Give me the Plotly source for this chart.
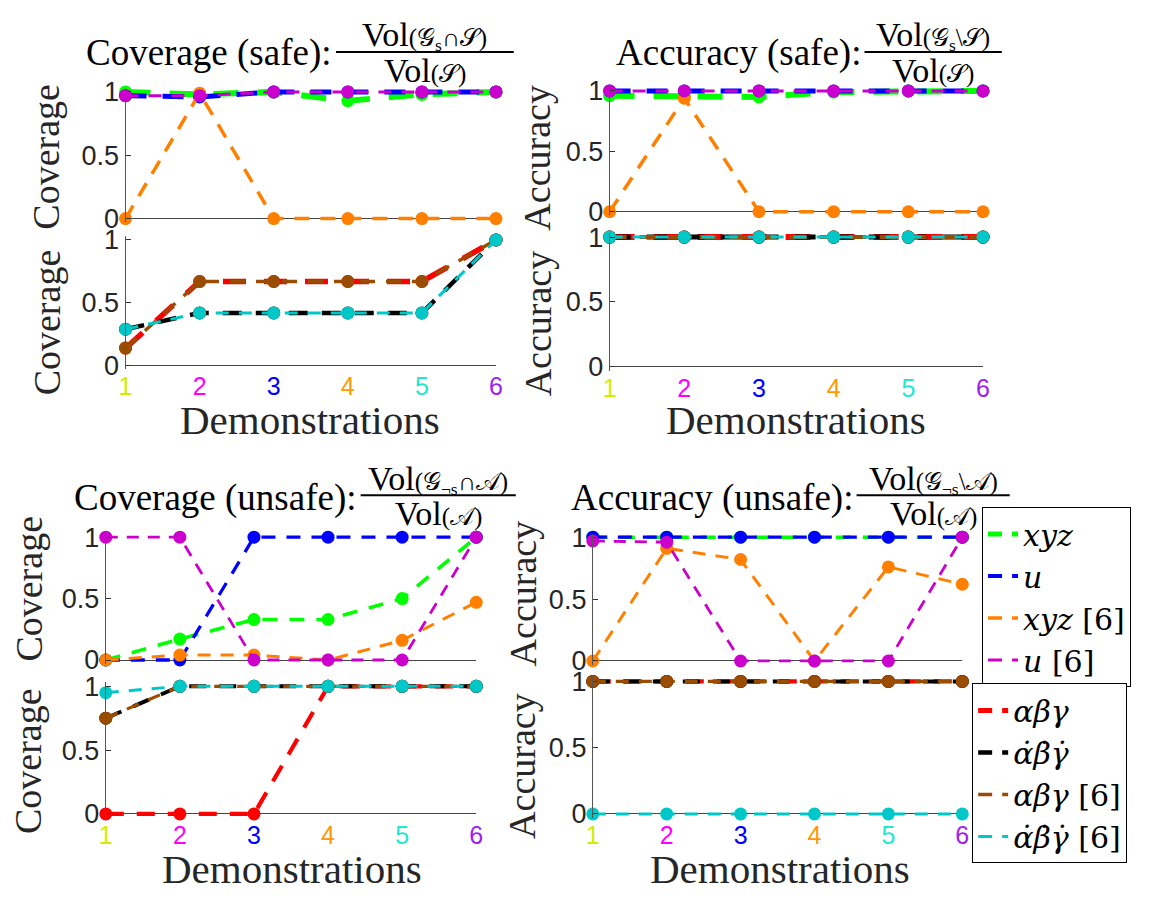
import plotly.graph_objects as go

W, H = 1155, 901

# ---------------- data ----------------
demos = [1, 2, 3, 4, 5, 6]
tick_labels = ["1", "2", "3", "4", "5", "6"]
tick_colors = ["#d2ec00", "#ff00ff", "#0000ff", "#ff9900", "#1ee8d0", "#a020f0"]

series_top = ["xyz", "u", "xyz [6]", "u [6]"]
series_bot = ["αβγ", "α̇β̇γ̇", "αβγ [6]", "α̇β̇γ̇ [6]"]

# Coverage (safe)
cov_safe_xyz = [1.0, 0.98, 1.0, 0.93, 0.98, 1.0]
cov_safe_u = [0.97, 0.96, 1.0, 1.0, 1.0, 1.0]
cov_safe_xyz6 = [0.0, 0.99, 0.0, 0.0, 0.0, 0.0]
cov_safe_u6 = [0.97, 0.97, 1.0, 1.0, 1.0, 1.0]
cov_safe_abg = [0.14, 0.67, 0.67, 0.67, 0.67, 1.0]
cov_safe_dabg = [0.29, 0.42, 0.42, 0.42, 0.42, 1.0]
cov_safe_abg6 = [0.14, 0.67, 0.67, 0.67, 0.67, 1.0]
cov_safe_dabg6 = [0.29, 0.42, 0.42, 0.42, 0.42, 1.0]

# Accuracy (safe)
acc_safe_xyz = [0.96, 0.96, 0.95, 0.99, 1.0, 1.0]
acc_safe_u = [1.0, 1.0, 1.0, 1.0, 1.0, 1.0]
acc_safe_xyz6 = [0.0, 0.94, 0.0, 0.0, 0.0, 0.0]
acc_safe_u6 = [1.0, 1.0, 1.0, 1.0, 1.0, 1.0]
acc_safe_abg = [1.0, 1.0, 1.0, 1.0, 1.0, 1.0]
acc_safe_dabg = [1.0, 1.0, 1.0, 1.0, 1.0, 1.0]
acc_safe_abg6 = [1.0, 1.0, 1.0, 1.0, 1.0, 1.0]
acc_safe_dabg6 = [1.0, 1.0, 1.0, 1.0, 1.0, 1.0]

# Coverage (unsafe)
cov_unsafe_xyz = [0.0, 0.17, 0.33, 0.33, 0.5, 1.0]
cov_unsafe_u = [0.0, 0.0, 1.0, 1.0, 1.0, 1.0]
cov_unsafe_xyz6 = [0.0, 0.04, 0.04, 0.0, 0.16, 0.47]
cov_unsafe_u6 = [1.0, 1.0, 0.0, 0.0, 0.0, 1.0]
cov_unsafe_abg = [0.0, 0.0, 0.0, 1.0, 1.0, 1.0]
cov_unsafe_dabg = [0.75, 1.0, 1.0, 1.0, 1.0, 1.0]
cov_unsafe_abg6 = [0.75, 1.0, 1.0, 1.0, 1.0, 1.0]
cov_unsafe_dabg6 = [0.95, 1.0, 1.0, 1.0, 1.0, 1.0]

# Accuracy (unsafe)
acc_unsafe_xyz = [1.0, 1.0, 1.0, 1.0, 1.0, 1.0]
acc_unsafe_u = [1.0, 1.0, 1.0, 1.0, 1.0, 1.0]
acc_unsafe_xyz6 = [0.0, 0.91, 0.82, 0.0, 0.76, 0.62]
acc_unsafe_u6 = [0.97, 0.96, 0.0, 0.0, 0.0, 1.0]
acc_unsafe_abg = [1.0, 1.0, 1.0, 1.0, 1.0, 1.0]
acc_unsafe_dabg = [1.0, 1.0, 1.0, 1.0, 1.0, 1.0]
acc_unsafe_abg6 = [1.0, 1.0, 1.0, 1.0, 1.0, 1.0]
acc_unsafe_dabg6 = [0.0, 0.0, 0.0, 0.0, 0.0, 0.0]

panels = [
    {"top": [cov_safe_xyz, cov_safe_u, cov_safe_xyz6, cov_safe_u6],
     "bot": [cov_safe_abg, cov_safe_dabg, cov_safe_abg6, cov_safe_dabg6]},
    {"top": [acc_safe_xyz, acc_safe_u, acc_safe_xyz6, acc_safe_u6],
     "bot": [acc_safe_abg, acc_safe_dabg, acc_safe_abg6, acc_safe_dabg6]},
    {"top": [cov_unsafe_xyz, cov_unsafe_u, cov_unsafe_xyz6, cov_unsafe_u6],
     "bot": [cov_unsafe_abg, cov_unsafe_dabg, cov_unsafe_abg6, cov_unsafe_dabg6]},
    {"top": [acc_unsafe_xyz, acc_unsafe_u, acc_unsafe_xyz6, acc_unsafe_u6],
     "bot": [acc_unsafe_abg, acc_unsafe_dabg, acc_unsafe_abg6, acc_unsafe_dabg6]},
]

# ---------------- styles ----------------
colors_top = ["#00ff00", "#0000ff", "#ff8000", "#cc00cc"]
colors_bot = ["#ff0000", "#000000", "#9a4d00", "#00c8c8"]
# line widths per panel (rendered thickness differs between the upper and lower rows)
widths = [
    {"top": [6, 5, 3.5, 3], "bot": [5.5, 4.5, 3.5, 3]},
    {"top": [6, 5, 3.5, 3], "bot": [6, 5, 4, 3]},
    {"top": [3.6, 3.3, 3, 2.8], "bot": [4.2, 4, 3.2, 3]},
    {"top": [3.6, 3.3, 3, 2.8], "bot": [4.2, 4, 3.2, 3]},
]
legend_widths_top = [5, 4, 3.5, 3]
legend_widths_bot = [5, 4.5, 3.5, 3]
MSIZE = 13

SERIF = "Liberation Serif"
LEGSERIF = "DejaVu Serif"
SANS = "Liberation Sans, Arial, sans-serif"

# pixel geometry of each panel: x of demo 1 and 6, and y of value 1 and 0 for the two stacked axes
geom = [
    {"x1": 120, "x6": 495, "top": (83, 213), "bot": (235, 364)},
    {"x1": 610, "x6": 988, "top": (82, 206), "bot": (232, 365)},
    {"x1": 100, "x6": 475, "top": (540, 666), "bot": (693, 824)},
    {"x1": 593, "x6": 967, "top": (540, 667), "bot": (688, 824)},
]
YPAD = 0.03


def fx(px):
    return px / W


def fy(py):
    return 1 - py / H


def dash_for(w):
    # dash length grows with the line width, as in the original plotting tool
    return f"{w*4.2:.0f}px,{w*3.2:.0f}px"


fig = go.Figure()
layout = {}

ticktext = [f"<span style='color:{c}'>{t}</span>" for t, c in zip(tick_labels, tick_colors)]

idx = 0
for p, (pan, g) in enumerate(zip(panels, geom)):
    for part in ("top", "bot"):
        idx += 1
        sfx = "" if idx == 1 else str(idx)
        y1, y0 = g[part]
        span = y0 - y1
        dom_y = [fy(y0 + YPAD * span), fy(y1 - YPAD * span)]
        dom_x = [fx(g["x1"]), fx(g["x6"])]
        is_bot = part == "bot"
        layout["xaxis" + sfx] = dict(
            domain=dom_x, range=[1, 6], anchor="y" + sfx,
            showgrid=False, zeroline=False, showline=False,
            tickmode="array", tickvals=demos if is_bot else [],
            ticktext=ticktext if is_bot else [],
            showticklabels=is_bot,
            tickfont=dict(family=SANS, size=25),
            ticks="",
        )
        layout["yaxis" + sfx] = dict(
            domain=dom_y, range=[-YPAD, 1 + YPAD], anchor="x" + sfx,
            showgrid=False, zeroline=True, zerolinecolor="#444444", zerolinewidth=1,
            showline=True, linecolor="#555555", linewidth=1,
            tickmode="array", tickvals=[0, 0.5, 1], ticktext=["0", "0.5", "1"],
            ticks="inside", ticklen=5, tickcolor="#333333",
            tickfont=dict(family=SANS, size=27, color="#262626"),
        )
        vals = pan[part]
        cols = colors_top if part == "top" else colors_bot
        for v, col, w in zip(vals, cols, widths[p][part]):
            fig.add_trace(go.Scatter(
                x=demos, y=v, mode="lines+markers",
                line=dict(color=col, width=w, dash=dash_for(w)),
                marker=dict(color=col, size=MSIZE),
                cliponaxis=False, showlegend=False, hoverinfo="skip",
                xaxis="x" + sfx, yaxis="y" + sfx,
            ))


def legend_label(name):
    if "[6]" in name:
        return "<i>" + name.replace(" [6]", "</i> [6]")
    return "<i>" + name + "</i>"


# legend-only traces
for name, col, w in zip(series_top, colors_top, legend_widths_top):
    fig.add_trace(go.Scatter(x=[None], y=[None], mode="lines", name=legend_label(name),
                             line=dict(color=col, width=w, dash="14px,10px"),
                             legend="legend", showlegend=True))
for name, col, w in zip(series_bot, colors_bot, legend_widths_bot):
    fig.add_trace(go.Scatter(x=[None], y=[None], mode="lines", name=legend_label(name),
                             line=dict(color=col, width=w, dash="14px,10px"),
                             legend="legend2", showlegend=True))

annotations = []
shapes = []

# titles with fractions
SM = "<span style='font-size:25px'>"
titles = [
    ("Coverage (safe):", "Vol" + SM + "(𝒢<sub>s</sub>∩𝒮)</span>",
     "Vol" + SM + "(𝒮)</span>", 331, 333, 513, 43, 25, 42, 61),
    ("Accuracy (safe):", "Vol" + SM + "(𝒢<sub>s</sub>\\𝒮)</span>",
     "Vol" + SM + "(𝒮)</span>", 866, 868, 1007, 43, 25, 42, 61),
    ("Coverage (unsafe):", "Vol" + SM + "(𝒢<sub>¬s</sub>∩𝒜)</span>",
     "Vol" + SM + "(𝒜)</span>", 356, 358, 515, 500, 481, 497, 516),
    ("Accuracy (unsafe):", "Vol" + SM + "(𝒢<sub>¬s</sub>\\𝒜)</span>",
     "Vol" + SM + "(𝒜)</span>", 858, 860, 1015, 500, 481, 497, 516),
]
for text, num, den, xr, fx0, fx1, ty, ny, by, dy in titles:
    annotations.append(dict(text=text, x=fx(xr), y=fy(ty), xref="paper", yref="paper",
                            xanchor="right", yanchor="middle", showarrow=False,
                            font=dict(family=SERIF, size=37, color="black")))
    cx = (fx0 + fx1) / 2
    annotations.append(dict(text=num, x=fx(cx), y=fy(ny), xref="paper", yref="paper",
                            xanchor="center", yanchor="middle", showarrow=False,
                            font=dict(family=SERIF, size=34, color="black")))
    annotations.append(dict(text=den, x=fx(cx), y=fy(dy), xref="paper", yref="paper",
                            xanchor="center", yanchor="middle", showarrow=False,
                            font=dict(family=SERIF, size=34, color="black")))
    shapes.append(dict(type="line", xref="paper", yref="paper",
                       x0=fx(fx0), x1=fx(fx1), y0=fy(by), y1=fy(by),
                       line=dict(color="black", width=2)))

# y-axis labels
ylabels = [
    ("Coverage", 40, 150), ("Coverage", 40, 320),
    ("Accuracy", 537, 150), ("Accuracy", 537, 320),
    ("Coverage", 22, 593), ("Coverage", 22, 770),
    ("Accuracy", 522, 598), ("Accuracy", 522, 775),
]
for text, x, y in ylabels:
    annotations.append(dict(text=text, x=fx(x), y=fy(y), xref="paper", yref="paper",
                            xanchor="center", yanchor="middle", textangle=-90, showarrow=False,
                            font=dict(family=SERIF, size=38, color="#262626")))

# x-axis labels
xlabels = [(307, 420), (799, 420), (289, 880), (782, 880)]
for x, y in xlabels:
    annotations.append(dict(text="Demonstrations", x=fx(x), y=fy(y), xref="paper", yref="paper",
                            xanchor="center", yanchor="middle", showarrow=False,
                            font=dict(family=SERIF, size=41, color="#262626")))

fig.update_layout(
    width=W, height=H, margin=dict(l=0, r=0, t=0, b=0),
    paper_bgcolor="white", plot_bgcolor="rgba(0,0,0,0)",
    annotations=annotations, shapes=shapes,
    legend=dict(x=fx(987), y=fy(509), xanchor="left", yanchor="top",
                bgcolor="white", bordercolor="black", borderwidth=1,
                font=dict(family=LEGSERIF, size=30, color="black"), tracegroupgap=0),
    legend2=dict(x=fx(977), y=fy(690), xanchor="left", yanchor="top",
                 bgcolor="white", bordercolor="black", borderwidth=1,
                 font=dict(family=LEGSERIF, size=30, color="black"), tracegroupgap=0),
    **layout,
)

fig.write_html("out.html")
